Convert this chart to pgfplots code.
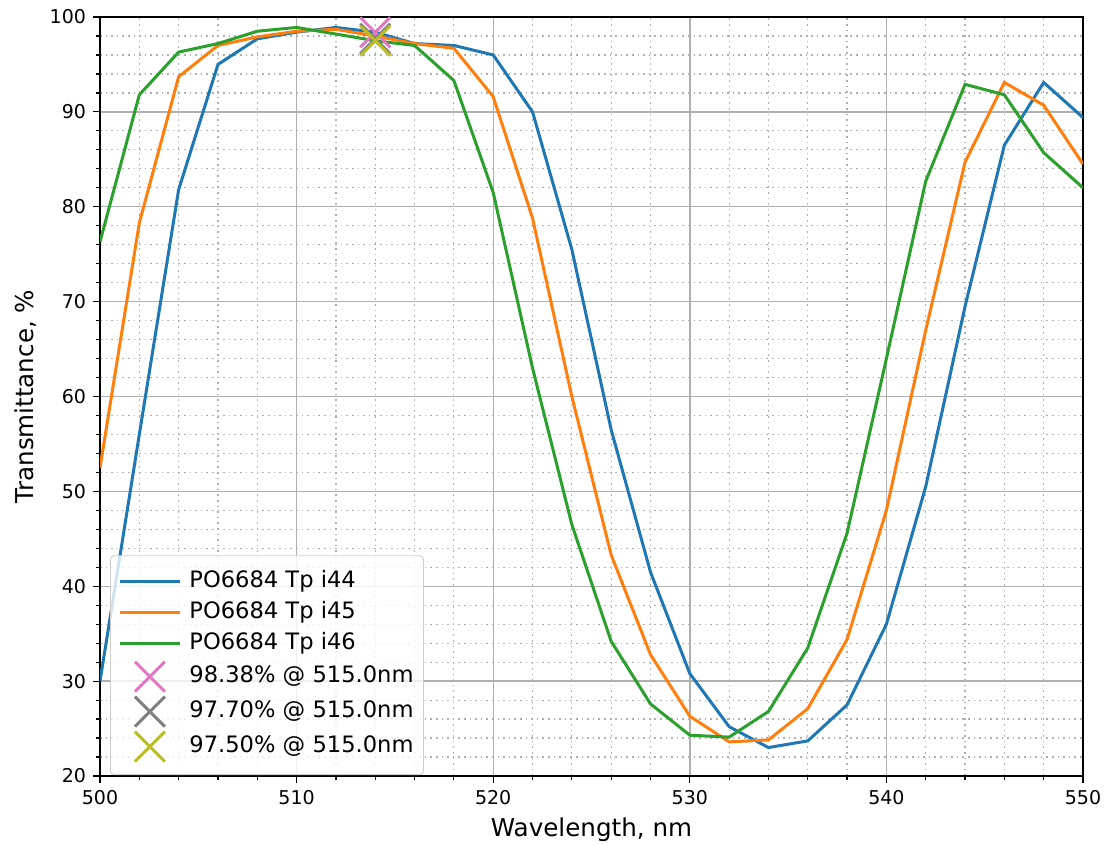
\documentclass[border=0pt]{standalone}
\usepackage{fontspec}
\setmainfont{DejaVu Sans}
\usepackage{pgfplots}
\pgfplotsset{compat=1.18}
\definecolor{c0}{HTML}{1F77B4}
\definecolor{c1}{HTML}{FF7F0E}
\definecolor{c2}{HTML}{2CA02C}
\definecolor{c6}{HTML}{E377C2}
\definecolor{c7}{HTML}{7F7F7F}
\definecolor{c8}{HTML}{BCBD22}
\definecolor{gridc}{HTML}{B0B0B0}

\pgfplotstableread{
x   a     b     c
500 30.0  52.5  76.3
502 56.0  78.3  91.8
504 81.8  93.7  96.3
506 95.0  97.0  97.2
508 97.7  97.9  98.5
510 98.4  98.5  98.9
512 98.9  98.7  98.2
514 98.4  98.0  97.5
516 97.2  97.2  97.0
518 97.0  96.7  93.3
520 96.0  91.6  81.5
522 90.0  78.8  63.0
524 75.5  60.0  46.5
526 56.5  43.3  34.2
528 41.5  32.8  27.6
530 30.8  26.3  24.3
532 25.2  23.6  24.1
534 23.0  23.8  26.8
536 23.7  27.1  33.5
538 27.5  34.4  45.6
540 36.0  48.0  64.0
542 50.5  67.0  82.7
544 69.5  84.7  92.9
546 86.5  93.1  91.8
548 93.1  90.7  85.7
550 89.4  84.5  82.0
}\spectra

\begin{document}
\begin{tikzpicture}
\begin{axis}[
    scale only axis,
    width=491.5pt, height=379.5pt,
    xmin=500, xmax=550, ymin=20, ymax=100,
    xtick distance=10, ytick distance=10,
    minor tick num=4,
    grid=both,
    major grid style={solid, gridc, line width=0.7pt},
    minor grid style={gridc, line width=0.6pt, dash pattern=on 0.8pt off 2pt},
    axis line style={black, line width=1.2pt},
    tick align=outside, tick pos=left,
    major tick length=3.5pt, minor tick length=2pt,
    every tick/.style={black, line width=0.6pt},
    /pgf/number format/assume math mode=true,
    tick label style={font=\fontsize{9.5}{11}\selectfont},
    label style={font=\fontsize{12.3}{14}\selectfont},
    xlabel={Wavelength, nm},
    ylabel={Transmittance, \%},
    legend cell align=left,
    legend image code/.code={\draw[mark repeat=2,mark phase=2,#1] plot coordinates {(0pt,0pt) (15pt,0pt) (30pt,0pt)};},
    legend style={at={(0,0)}, anchor=south west, xshift=5pt, yshift=0.5pt,
        font=\fontsize{11.3}{13}\selectfont,
        fill=white, fill opacity=0.8, text opacity=1, draw=gray!40,
        rounded corners=2pt, inner xsep=4pt, inner ysep=6.5pt, row sep=2.5pt,
        nodes={inner sep=1pt, text height=8.5pt, text depth=2.5pt},
        /tikz/every odd column/.append style={column sep=3pt}},
]
\coordinate (sw) at (rel axis cs:0,0);
\coordinate (ne) at (rel axis cs:1,1);
\addplot[c0, line width=1.5pt] table[x=x, y=a] {\spectra};
\addlegendentry{PO6684 Tp i44}
\addplot[c1, line width=1.5pt] table[x=x, y=b] {\spectra};
\addlegendentry{PO6684 Tp i45}
\addplot[c2, line width=1.5pt] table[x=x, y=c] {\spectra};
\addlegendentry{PO6684 Tp i46}
\addplot[c6, only marks, mark=x, mark size=10.6pt, line width=1.5pt] coordinates {(514,98.38)};
\addlegendentry{98.38\% @ 515.0nm}
\addplot[c7, only marks, mark=x, mark size=10.6pt, line width=1.5pt] coordinates {(514,97.70)};
\addlegendentry{97.70\% @ 515.0nm}
\addplot[c8, only marks, mark=x, mark size=10.6pt, line width=1.5pt] coordinates {(514,97.50)};
\addlegendentry{97.50\% @ 515.0nm}
\end{axis}
\pgfresetboundingbox
\path ([shift={(-50pt,-34pt)}]sw) rectangle ([shift={(10.5pt,8.5pt)}]ne);
\end{tikzpicture}
\end{document}
